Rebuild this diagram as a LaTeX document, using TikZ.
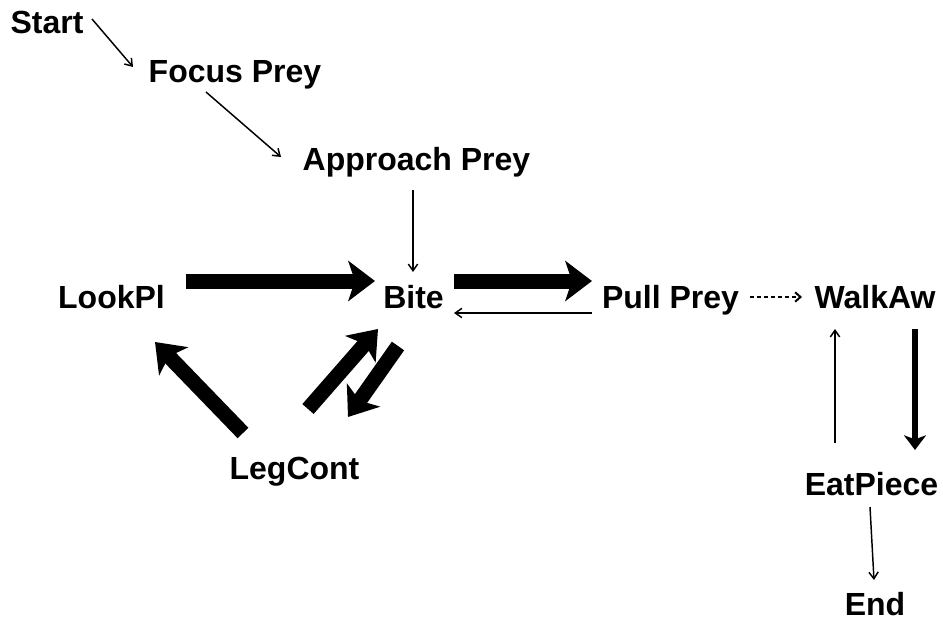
\documentclass[tikz,border=0pt]{standalone}
\usepackage{fontspec}
\setmainfont{Liberation Sans}
\usetikzlibrary{arrows.meta}
\begin{document}
\begin{tikzpicture}[x=0.75pt,y=-0.75pt,
  state/.style={inner sep=0pt,text height=17pt,text depth=5pt,
    font=\fontsize{24}{28}\selectfont\bfseries},
  thin arrow/.style={line width=1.1pt,-{Straight Barb[length=5pt,width=7pt]}},
  dash arrow/.style={line width=1.5pt,dash pattern=on 3pt off 2.25pt,
    -{Straight Barb[length=4pt,width=7pt]}},
  heavy arrow/.style={line width=11.25pt,-{Stealth[length=20pt,width=30pt,inset=5pt]}},
  medium arrow/.style={line width=4.5pt,-{Stealth[length=11pt,width=16.5pt,inset=3pt]}}]
\useasboundingbox (0,0) rectangle (943,621);

% states
\node[state] (start)    at (47,25)    {Start};
\node[state] (focus)    at (235,74)   {Focus Prey};
\node[state] (approach) at (416.5,162){Approach Prey};
\node[state] (lookpl)   at (111.5,300){LookPl};
\node[state] (bite)     at (413.5,300){Bite};
\node[state] (pull)     at (670.5,300){Pull Prey};
\node[state] (walkaw)   at (875,300)  {WalkAw};
\node[state] (legcont)  at (294.5,471){LegCont};
\node[state] (eat)      at (871.5,487){EatPiece};
\node[state] (end)      at (875,607)  {End};

% transitions
\draw[thin arrow] ([shift={(45,-6)}]start.center) -- ([shift={(-102,-7)}]focus.center);
\draw[thin arrow] ([shift={(-29,18)}]focus.center) -- ([shift={(-135.5,-5)}]approach.center);
\draw[thin arrow] ([shift={(-3.5,28)}]approach.center) -- ([shift={(-0.5,-28)}]bite.center);
\draw[heavy arrow] ([shift={(74.5,-19)}]lookpl.center) -- ([shift={(-38.5,-19)}]bite.center);
\draw[heavy arrow] ([shift={(40.5,-19)}]bite.center) -- ([shift={(-78.5,-19)}]pull.center);
\draw[thin arrow] ([shift={(-78.5,13)}]pull.center) -- ([shift={(40.5,13)}]bite.center);
\draw[heavy arrow] ([shift={(-51.5,-38)}]legcont.center) -- ([shift={(43.5,42)}]lookpl.center);
\draw[heavy arrow] ([shift={(13.5,-62)}]legcont.center) -- ([shift={(-35.5,29)}]bite.center);
\draw[heavy arrow] ([shift={(-15.5,46)}]bite.center) -- ([shift={(53.5,-54)}]legcont.center);
\draw[dash arrow] ([shift={(79.5,-3)}]pull.center) -- ([shift={(-73,-3)}]walkaw.center);
\draw[thin arrow] ([shift={(-36.5,-44)}]eat.center) -- ([shift={(-40,29)}]walkaw.center);
\draw[medium arrow] ([shift={(40,29)}]walkaw.center) -- ([shift={(43.5,-37)}]eat.center);
\draw[thin arrow] ([shift={(-1.5,20)}]eat.center) -- ([shift={(-1,-27)}]end.center);
\end{tikzpicture}
\end{document}
